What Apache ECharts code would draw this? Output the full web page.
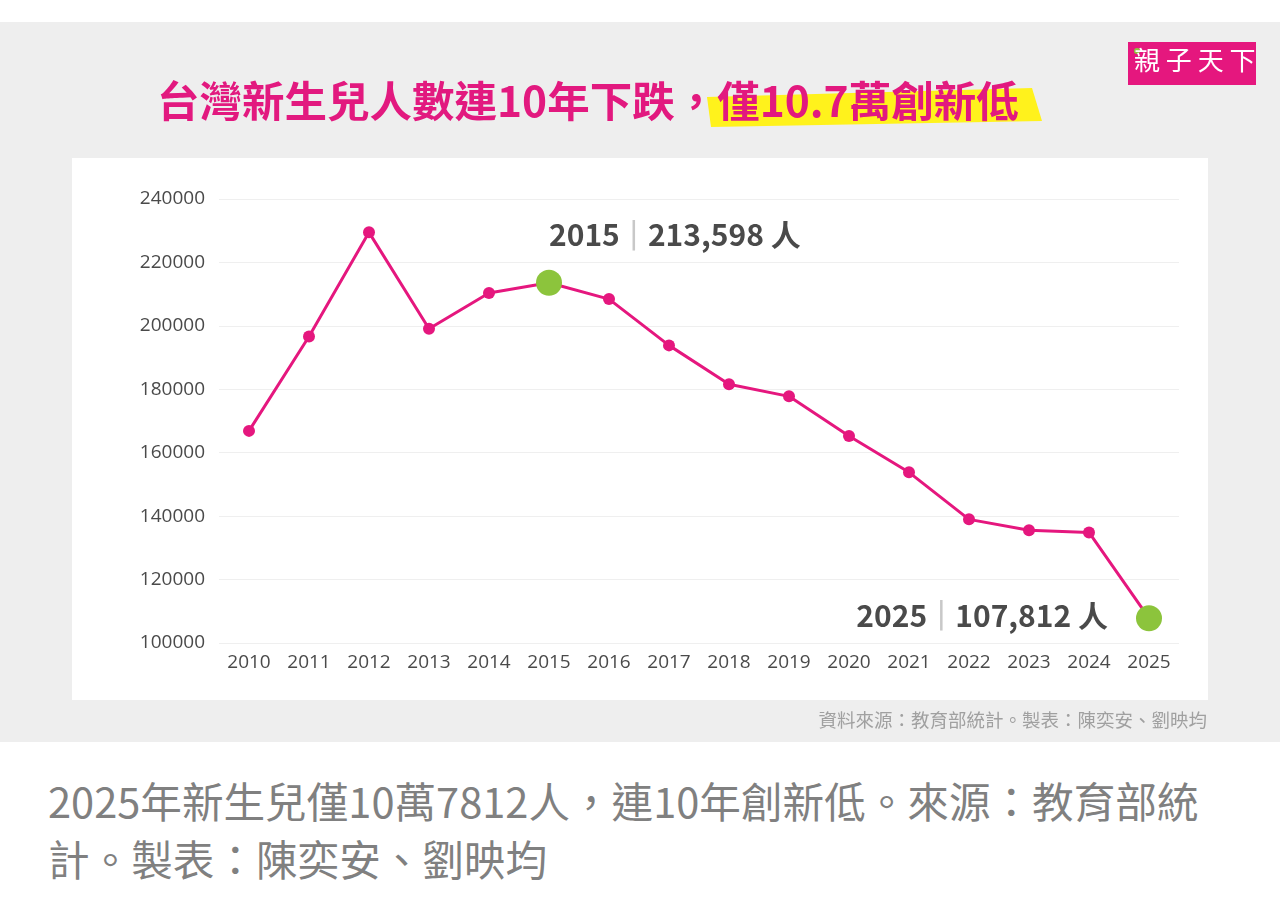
<!DOCTYPE html>
<html>
<head>
<meta charset="utf-8">
<script src="https://cdn.jsdelivr.net/npm/echarts@6/dist/echarts.min.js"></script>
<style>
  html, body { margin: 0; padding: 0; background: #fff; }
  #chart { width: 1280px; height: 742px; }
  .caption {
    position: absolute; left: 48px; top: 771px;
    font-family: "Noto Sans CJK TC", "Noto Sans", sans-serif;
    font-size: 41.6px; line-height: 58px; color: #808080;
  }
</style>
</head>
<body>
<div id="chart"></div>
<div class="caption">2025年新生兒僅10萬7812人，連10年創新低。來源：教育部統<br>計。製表：陳奕安、劉映均</div>
<script>
// 台灣新生兒人數 (教育部統計)
var years = ['2010', '2011', '2012', '2013', '2014', '2015', '2016', '2017',
  '2018', '2019', '2020', '2021', '2022', '2023', '2024', '2025']
var births = [166886, 196627, 229481, 199113, 210383, 213598, 208440, 193844,
  181601, 177767, 165249, 153820, 138986, 135571, 134856, 107812]
var highlightYears = ['2015', '2025']
var yTicks = { min: 100000, max: 240000, step: 20000 }

var pink = '#e5177e'
var green = '#8cc43c'
var cjk = '"Noto Sans CJK TC", "Noto Sans", sans-serif'

function fmt (n) {
  return n.toString().replace(/\B(?=(\d{3})+(?!\d))/g, ',')
}

var seriesData = births.map(function (v, i) {
  if (highlightYears.indexOf(years[i]) < 0) return v
  var last = i === years.length - 1
  return {
    value: v,
    symbolSize: 26,
    itemStyle: { color: green },
    label: {
      show: true,
      position: last ? 'left' : 'top',
      align: last ? 'right' : 'left',
      distance: last ? 28 : 5,
      offset: last ? [0, -3] : [0, -15],
      formatter: '{y|' + years[i] + '}{s||}{v|' + fmt(v) + ' 人}',
      rich: {
        y: { fontSize: 30, fontWeight: 'bold', color: '#4a4a4a', fontFamily: cjk },
        s: { fontSize: 30, color: '#c8c8c8', padding: [0, 9], fontFamily: 'DejaVu Sans' },
        v: { fontSize: 30, fontWeight: 'bold', color: '#4a4a4a', fontFamily: cjk }
      }
    }
  }
})

var chart = echarts.init(document.getElementById('chart'))

chart.setOption({
  backgroundColor: '#ffffff',
  animation: false,
  graphic: [
    { type: 'rect', z: -10, shape: { x: 0, y: 22, width: 1280, height: 720 }, style: { fill: '#eeeeee' } },
    { type: 'rect', z: -9, shape: { x: 72, y: 158, width: 1136, height: 542 }, style: { fill: '#ffffff' } },
    // yellow marker stroke behind the second half of the title
    { type: 'polygon', z: -8, shape: { points: [[707, 97], [1032, 88], [1042, 121], [711, 127]] }, style: { fill: '#fff21c' } },
    {
      type: 'text', left: 157, top: 80,
      style: {
        text: '台灣新生兒人數連10年下跌，僅10.7萬創新低',
        fontSize: 42.5, fontWeight: 'bold', fill: '#e2197f', fontFamily: cjk
      }
    },
    { type: 'rect', shape: { x: 1128, y: 42, width: 128, height: 43 }, style: { fill: '#e5177e' } },
    { type: 'circle', shape: { cx: 1137, cy: 51, r: 3 }, style: { fill: '#8cc43c' } },
    {
      type: 'text', left: 1134, top: 47,
      style: { text: '親 子 天 下', fontSize: 26, fill: '#ffffff', fontFamily: cjk }
    },
    {
      type: 'text', right: 73, top: 711,
      style: { text: '資料來源：教育部統計。製表：陳奕安、劉映均', fontSize: 18.5, fill: '#a0a0a0', fontFamily: cjk }
    }
  ],
  grid: { left: 219, right: 101, top: 199, bottom: 99 },
  xAxis: {
    type: 'category',
    data: years,
    boundaryGap: true,
    axisLine: { show: false },
    axisTick: { show: false },
    axisLabel: { margin: 10, fontSize: 19, color: '#4a4a4a', fontFamily: 'Open Sans' }
  },
  yAxis: {
    type: 'value',
    min: yTicks.min,
    max: yTicks.max,
    interval: yTicks.step,
    axisLine: { show: false },
    axisTick: { show: false },
    axisLabel: {
      margin: 14, fontSize: 19, color: '#4a4a4a', fontFamily: 'Open Sans',
      formatter: function (v) { return String(v) }
    },
    splitLine: { lineStyle: { color: '#efefef', width: 1 } }
  },
  series: [{
    type: 'line',
    data: seriesData,
    symbol: 'circle',
    symbolSize: 12,
    lineStyle: { color: pink, width: 3 },
    itemStyle: { color: pink },
    z: 3
  }]
})
</script>
</body>
</html>
